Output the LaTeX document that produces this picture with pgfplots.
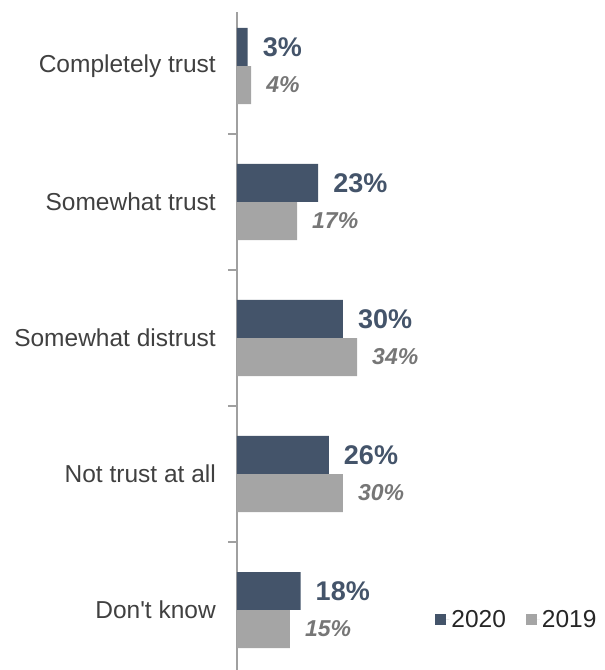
\documentclass[border=0pt]{standalone}
\usepackage{pgfplots}
\pgfplotsset{compat=1.18}
\usepackage{fontspec}
\setmainfont{Liberation Sans}
\definecolor{navy}{HTML}{44546A}
\definecolor{lgrey}{HTML}{A5A5A5}
\definecolor{lblgrey}{HTML}{767676}
\definecolor{txt}{HTML}{404040}
\definecolor{axgrey}{HTML}{A0A0A0}
\begin{document}
\begin{tikzpicture}
\begin{axis}[
  at={(237pt,0pt)}, anchor=south west,
  scale only axis, width=353pt, height=658pt,
  xmin=0, xmax=100, ymin=-0.441, ymax=4.397,
  axis x line=none, axis y line*=left,
  xbar, bar width=0.279,
  ytick={0,1,2,3,4},
  yticklabels={Don\textquotesingle t know, Not trust at all, Somewhat distrust, Somewhat trust, Completely trust},
  minor ytick={0.5,1.5,2.5,3.5},
  major tick length=0pt, minor tick length=9pt, tick align=outside,
  y axis line style={color=axgrey, line width=1.2pt},
  every tick/.style={color=axgrey, line width=1.2pt},
  yticklabel style={font=\fontsize{24.5}{27}\selectfont, color=txt, inner sep=0pt, xshift=-21pt},
  clip=false,
  point meta=x,
  legend image code/.code={\fill[#1] (0pt,-5.5pt) rectangle (11pt,5.5pt); \path (0pt,0pt) -- (14pt,0pt);},
  legend columns=2,
  legend style={at={(0.553,0.076)}, anchor=west, draw=none, fill=none,
    font=\fontsize{24.5}{27}\selectfont, text=black!85,
    /tikz/every even column/.append style={column sep=18pt}},
]
\addplot[fill=navy, draw=none, bar shift=0.14,
  nodes near coords={\pgfmathprintnumber[assume math mode=true]{\pgfplotspointmeta}\%},
  nodes near coords style={font=\fontsize{27}{29}\selectfont\bfseries, color=navy, anchor=west, inner sep=0pt, xshift=15pt}]
  coordinates {(3,4) (23,3) (30,2) (26,1) (18,0)};
\addlegendentry{2020}
\addplot[fill=lgrey, draw=none, bar shift=-0.14,
  nodes near coords={\pgfmathprintnumber[assume math mode=true]{\pgfplotspointmeta}\%},
  nodes near coords style={font=\fontsize{23}{25}\selectfont\bfseries\itshape, color=lblgrey, anchor=west, inner sep=0pt, xshift=15pt}]
  coordinates {(4,4) (17,3) (34,2) (30,1) (15,0)};
\addlegendentry{2019}
\end{axis}
\pgfresetboundingbox
\useasboundingbox (0,0) rectangle (605pt,670pt);
\end{tikzpicture}
\end{document}
